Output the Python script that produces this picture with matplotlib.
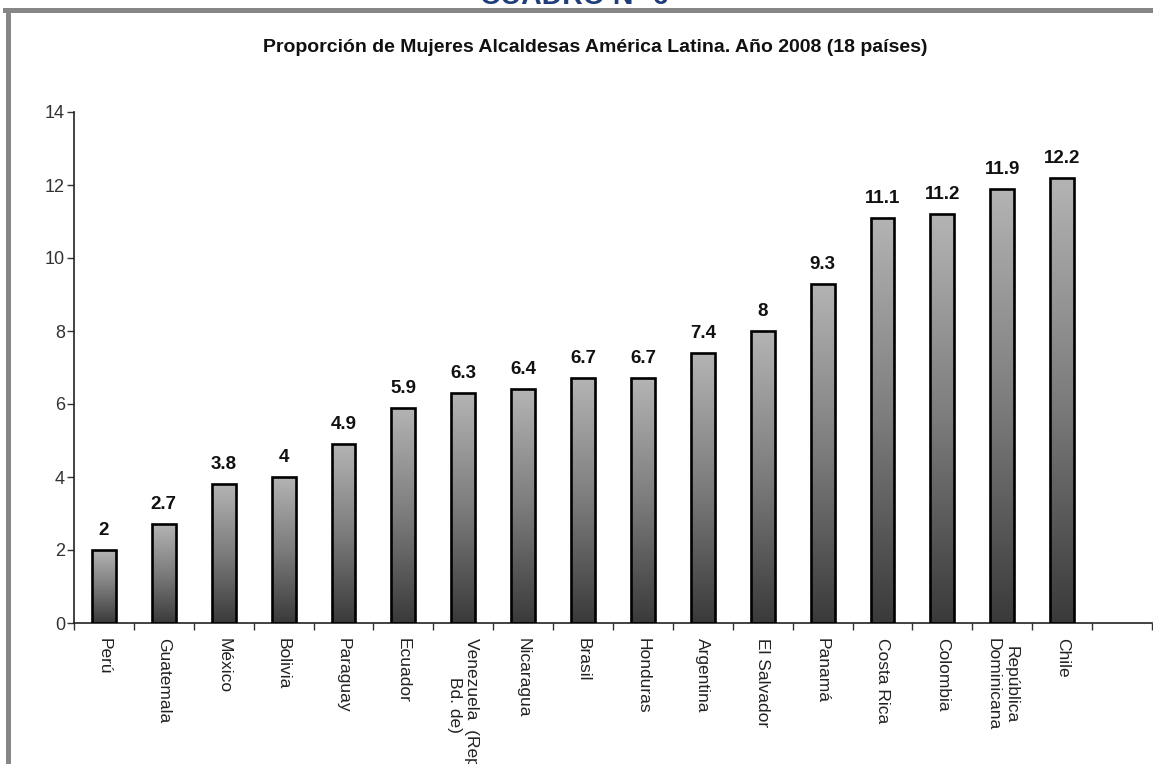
import numpy as np
import matplotlib
matplotlib.use("Agg")
import matplotlib.pyplot as plt
from matplotlib.colors import LinearSegmentedColormap
from matplotlib.patches import Rectangle

# ---- data ----
categories = ["Perú", "Guatemala", "México", "Bolivia", "Paraguay", "Ecuador",
              "Venezuela  (Rep.\nBd. de)", "Nicaragua", "Brasil", "Honduras",
              "Argentina", "El Salvador", "Panamá", "Costa Rica", "Colombia",
              "República\nDominicana", "Chile"]
values = [2, 2.7, 3.8, 4, 4.9, 5.9, 6.3, 6.4, 6.7, 6.7, 7.4, 8, 9.3, 11.1, 11.2, 11.9, 12.2]
yticks = [0, 2, 4, 6, 8, 10, 12, 14]
title = "Proporción de Mujeres Alcaldesas América Latina. Año 2008 (18 países)"
header = "CUADRO N° 6"

W, H = 1153, 764
fig = plt.figure(figsize=(W / 100, H / 100), dpi=100)
fig.patch.set_facecolor("white")

FONT = ["Liberation Sans", "DejaVu Sans"]

# frame bands
fig.patches.append(Rectangle((3 / W, 1 - 12.7 / H), 1, 4.7 / H, transform=fig.transFigure,
                             facecolor="#868686", edgecolor="none", zorder=0))
fig.patches.append(Rectangle((6 / W, 0), 5 / W, 1 - 8 / H, transform=fig.transFigure,
                             facecolor="#868686", edgecolor="none", zorder=0))

# header (cut off at top, as in the reference)
fig.text(574 / W, 1 - 3.5 / H, header, ha="center", va="baseline", fontsize=20.5,
         fontweight="bold", color="#1f3d7a", family=FONT)

# title
fig.text(595 / W, 1 - 47 / H, title, ha="center", va="center", fontsize=14,
         fontweight="bold", color="#111111", family=FONT)

ax = fig.add_axes([74 / W, 1 - 623 / H, (1152 - 74) / W, (623 - 112) / H])
ax.set_facecolor("none")

n_slots = len(categories) + 1
x = np.arange(len(categories)) + 0.5
bars = ax.bar(x, values, width=0.40, color="none", edgecolor="black", linewidth=1.9, zorder=3)

cmap = LinearSegmentedColormap.from_list("g", ["#3a3a3a", "#7c7c7c", "#b4b4b4"])
grad = np.linspace(0, 1, 256).reshape(-1, 1)
for b in bars:
    x0, w, h = b.get_x(), b.get_width(), b.get_height()
    im = ax.imshow(grad, extent=[x0, x0 + w, 0, h], origin="lower", aspect="auto",
                   cmap=cmap, zorder=2, interpolation="bilinear")
    im.set_clip_path(b)

for xi, v in zip(x, values):
    ax.annotate(f"{v:g}", (xi, v), xytext=(0, 10.8), textcoords="offset points",
                ha="center", va="baseline", fontsize=13.5, fontweight="bold",
                color="#111111", family=FONT)

ax.set_xlim(0, n_slots)
ax.set_ylim(0, 14)
ax.set_yticks(yticks)
ax.set_yticklabels([str(t) for t in yticks], fontsize=13, color="#333333", family=FONT)
ax.tick_params(axis="y", direction="out", length=5, width=1, color="#333333", pad=1.5)

ax.set_xticks(np.arange(0, n_slots + 1))
ax.set_xticklabels([])
ax.tick_params(axis="x", which="major", direction="out", length=5, width=1, color="#333333")
ax.set_xticks(x, minor=True)
ax.set_xticklabels(categories, minor=True, rotation=-90, fontsize=12.5, color="#222222",
                   family=FONT, ha="center", va="top", multialignment="center")
ax.tick_params(axis="x", which="minor", length=0, pad=11)

for s in ["top", "right"]:
    ax.spines[s].set_visible(False)
for s in ["left", "bottom"]:
    ax.spines[s].set_color("#222222")
    ax.spines[s].set_linewidth(1.2)

fig.savefig("out.png", dpi=100)
